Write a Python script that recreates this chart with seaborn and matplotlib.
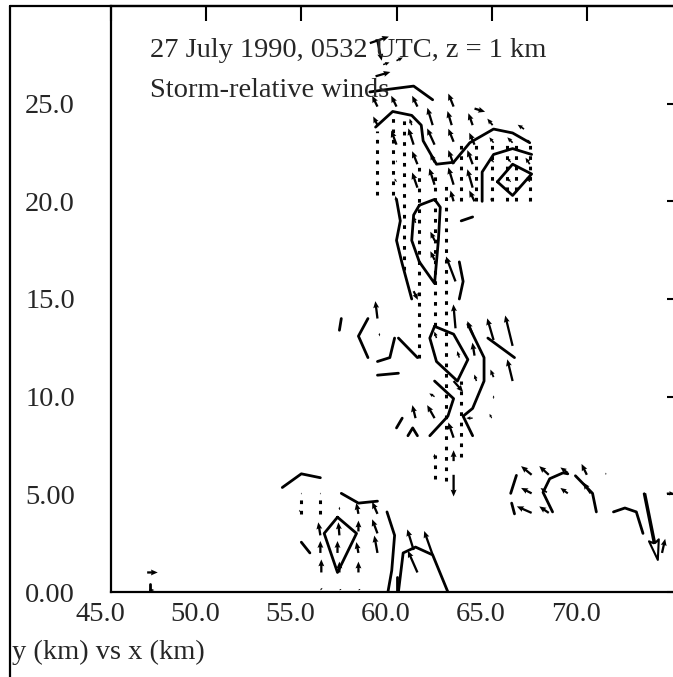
import numpy as np
import pandas as pd
import matplotlib
matplotlib.use("Agg")
import matplotlib.pyplot as plt
import matplotlib.transforms as mtransforms
from matplotlib.lines import Line2D
import seaborn as sns

# ---------------- data (km, m/s) ----------------
title_lines = ["27 July 1990, 0532 UTC, z = 1 km", "Storm-relative winds"]
axis_caption = "y (km) vs x (km)"
x_ticks = [45.0, 50.0, 55.0, 60.0, 65.0, 70.0]
x_ticklabels = ["45.0", "50.0", "55.0", "60.0", "65.0", "70.0"]
y_ticks = [0.0, 5.0, 10.0, 15.0, 20.0, 25.0]
y_ticklabels = ["0.00", "5.00", "10.0", "15.0", "20.0", "25.0"]

# wind vectors: tail position (km) and storm-relative components (m/s)
vec_x = [58.6, 59.0, 59.3, 60.0, 58.9,
         59.0, 60.0, 61.1, 63.0, 64.1,
         59.0, 60.8, 61.9, 62.9, 64.0, 65.05, 66.7,
         59.0, 60.0, 60.9, 62.0, 63.0, 64.1, 65.1, 66.1, 67.0,
         59.0, 60.0, 61.1, 62.0, 63.0, 64.0, 65.1, 66.0, 67.0,
         60.0, 61.1, 62.0, 63.0, 64.0, 66.0, 67.0,
         60.0, 63.0, 64.1, 65.0, 67.0,
         61.0, 62.0, 62.0, 63.1, 60.9, 59.0, 59.1, 63.1, 64.0, 64.1,
         65.1, 66.1, 66.1, 63.3, 64.2, 65.1, 62.1, 63.0, 62.0, 61.0,
         62.0, 63.0, 63.0, 63.0, 62.0, 64.0, 65.0, 65.1,
         55.0, 56.0, 54.9, 56.0, 57.0, 58.0, 59.0, 56.0, 57.0, 58.0,
         59.0, 56.0, 56.9, 58.0, 59.0, 56.05, 57.0, 58.0, 56.0, 57.0,
         58.0, 60.9, 61.9, 61.1, 46.9, 47.0,
         67.1, 68.0, 69.0, 70.0, 71.0, 67.1, 67.9, 69.0, 70.2, 67.1,
         68.0, 73.95, 74.2]
vec_y = [28.1, 28.2, 27.0, 27.2, 26.4,
         24.85, 24.85, 24.85, 24.85, 24.75,
         23.9, 23.9, 23.9, 23.9, 23.9, 23.9, 23.7,
         23.0, 22.9, 22.9, 22.9, 23.05, 22.9, 23.0, 23.0, 23.0,
         22.0, 22.0, 21.9, 22.0, 21.9, 21.9, 22.0, 22.0, 21.9,
         21.0, 20.7, 20.85, 20.85, 20.7, 21.0, 21.0,
         20.0, 20.0, 20.0, 20.0, 20.0,
         18.9, 18.0, 17.0, 15.9, 15.4, 14.0, 13.1, 13.5, 13.2, 12.1,
         12.9, 12.6, 10.8, 12.0, 10.8, 11.0, 13.0, 10.8, 10.0, 8.9,
         8.9, 7.9, 6.7, 6.0, 6.8, 8.9, 8.9, 9.9,
         5.0, 5.0, 4.1, 4.0, 4.2, 4.0, 4.0, 2.9, 2.9, 3.1,
         3.0, 2.0, 2.0, 2.0, 2.0, 1.0, 1.0, 1.0, 0.1, 0.1,
         0.1, 2.15, 1.9, 1.0, 1.0, 0.1,
         6.0, 6.0, 6.1, 6.0, 6.0, 5.05, 5.1, 5.05, 5.05, 4.05,
         4.05, 2.0, 5.05]
vec_u = [9, 2, 3, 3, 7,
         -2.5, -2.5, -2.5, -2.5, 5,
         -2, -1, -2.5, -2, -2, -2.5, -3,
         0, -2.5, -2.5, -3.5, -2.5, -2.5, -2, -2.5, -1,
         0, 0, -2.5, -2, -2.5, -2.5, -1.5, -1.5, -2,
         -1, -2.5, -2.5, -2.5, -2.5, -1.5, -1.5,
         -0.5, -1.5, -2.5, -0.5, 0,
         -1, -2, -2, -4.5, 2, -1, 0, -1, -2.5, -1,
         -3, -3.5, -2.5, -1, -1, -1.5, -1, 4.5, -2.5, -1.5,
         -3.5, -2.5, 0, 0, 0, -3, -1, 0,
         0, 0, 0, 0, 0, -1, -2.5, -1, -0.5, 0,
         -2.5, 0, 0, -1, -1.5, 0, 0, 0, 1, 1,
         1, -3, -4, -4.5, 5, 2.5,
         -5, -4.5, -3.5, -2.5, 0, -5, -3, -3.5, -3.5, -7,
         -4.5, 1.5, 3.5]
vec_v = [3, -9, 1, 1.5, 2,
         5, 5, 5, 6, -1.5,
         4, 3, 8, 6.5, 5.5, 3, 2,
         1.5, 6.5, 7.5, 7.5, 6, 5.5, 2.5, 2.5, 1.5,
         1, 1, 6, 4, 6.5, 6.5, 2, 2, 3,
         1.5, 7, 7.5, 8, 8.5, 1.5, 2,
         2.5, 5, 5, 1.5, 1.5,
         3, 4, 4, 11.5, -4, 8, 1.5, 11, 6, 6,
         10, 14, 10, 3, 3, 3.5, 3, -5, 1.5, 6,
         6, 7, 5, -10, 2.5, 0, 2, 1.5,
         0.8, 0.8, 1, 1, 1.5, 5, 5.5, 6, 6, 5,
         6.5, 5.5, 5.5, 5, 8, 6, 5, 5, 1, 0.5,
         0.5, 9.5, 11, 10, 0, 0,
         4, 4, 2.5, 5, 1, 2.5, 2, 2.5, 5, 3,
         3, 6.5, 0]

# strongest vector (reference arrow), drawn with an open head
big_x, big_y, big_u, big_v = [73.0], [5.05], [7.0], [-34.0]

# solid contour polylines (km)
contours = [
    ([58.6, 59.3, 60.9, 61.9], [25.6, 25.7, 25.9, 25.2]),
    ([58.9, 59.8, 60.8, 61.3, 61.4, 62.1, 63.0, 63.85, 65.1, 66.1, 67.0],
     [23.8, 24.6, 24.4, 23.9, 23.1, 21.9, 22.0, 23.0, 23.7, 23.5, 23.0]),
    ([64.5, 64.5, 65.1, 66.1, 67.1], [20.0, 21.5, 22.4, 22.7, 22.4]),
    ([65.3, 66.1, 67.1, 66.1, 65.3], [21.0, 21.9, 21.4, 20.3, 21.0]),
    ([61.2, 62.0, 62.3, 62.2, 62.0, 61.2, 60.8, 60.9, 61.2],
     [19.8, 20.1, 19.7, 18.0, 15.8, 16.9, 18.0, 19.3, 19.8]),
    ([60.0, 60.2, 60.0, 60.3, 60.8], [20.1, 19.0, 18.0, 16.8, 15.0]),
    ([63.3, 63.5, 63.3], [16.9, 15.9, 15.0]),
    ([63.4, 64.0], [19.0, 19.2]),
    ([57.0, 57.1], [13.4, 14.0]),
    ([58.5, 58.0, 58.5], [14.0, 13.1, 12.0]),
    ([59.0, 59.65, 59.9], [11.8, 12.0, 13.0]),
    ([60.1, 61.1], [13.0, 12.0]),
    ([59.0, 60.1], [11.1, 11.2]),
    ([62.0, 61.75, 62.1, 63.2, 63.75, 63.0, 62.0], [13.6, 13.0, 11.8, 10.8, 11.9, 13.2, 13.6]),
    ([63.75, 64.6, 64.6, 64.0, 63.5, 64.0], [13.7, 12.0, 10.8, 9.4, 9.0, 8.0]),
    ([64.8, 66.2], [13.0, 12.0]),
    ([62.0, 63.0, 62.7, 61.75], [10.8, 9.9, 9.0, 8.0]),
    ([60.6, 60.85, 61.1], [8.0, 8.4, 8.0]),
    ([60.3, 60.0], [8.9, 8.4]),
    ([54.0, 55.0, 56.0], [5.35, 6.05, 5.85]),
    ([57.1, 58.0, 59.0], [5.05, 4.55, 4.65]),
    ([56.9, 56.2, 56.9, 57.9, 56.9], [3.83, 3.0, 1.0, 3.0, 3.83]),
    ([55.0, 55.45], [2.55, 2.0]),
    ([59.5, 59.9, 59.75, 59.55], [4.1, 2.9, 1.1, 0.0]),
    ([60.1, 60.35, 61.0, 61.9, 62.7], [0.0, 2.0, 2.3, 1.9, 0.0]),
    ([60.0, 60.0], [0.75, 0.0]),
    ([68.2, 67.7, 68.05, 68.75, 69.0], [4.1, 5.1, 5.8, 6.1, 6.05]),
    ([69.4, 70.3, 70.5], [5.95, 5.05, 4.1]),
    ([71.4, 72.0, 72.6, 72.95], [4.1, 4.3, 4.1, 3.0]),
    ([66.0, 66.3], [5.05, 5.97]),
    ([66.05, 66.2], [4.55, 4.0]),
    ([47.05, 47.05], [0.0, 0.4]),
]

# dotted (negative) contour segments: x, y-start, y-end (km)
dot_x = [59.0, 59.8, 60.4, 61.2, 62.0, 62.0, 62.6, 63.4, 63.4, 64.2, 65.0, 65.8, 66.3, 67.0, 55.0, 56.0]
dot_y0 = [20.3, 20.3, 16.5, 12.0, 13.6, 5.8, 5.7, 6.9, 20.0, 20.0, 20.0, 20.0, 20.0, 20.0, 4.0, 4.0]
dot_y1 = [23.6, 24.3, 24.3, 22.0, 21.5, 7.0, 21.0, 10.8, 23.2, 23.2, 23.0, 23.0, 23.0, 23.0, 5.0, 5.0]

# ---------------- figure ----------------
sns.set_style("white")
plt.rcParams["font.family"] = ["Liberation Serif", "DejaVu Serif"]
plt.rcParams["font.size"] = 20.5

W, H = 673, 677
fig = plt.figure(figsize=(W / 100, H / 100), dpi=100)
ax = fig.add_axes([111 / W, 85 / H, 571 / W, 586 / H])

# contours via seaborn
rows = []
for cid, (xs, ys) in enumerate(contours):
    for order, (xx, yy) in enumerate(zip(xs, ys)):
        rows.append({"cid": cid, "order": order, "x": xx, "y": yy})
cdf = pd.DataFrame(rows)
sns.lineplot(data=cdf, x="x", y="y", units="cid", estimator=None, sort=False,
             color="black", linewidth=2.0, ax=ax, legend=False)

# dotted segments
ax.vlines(dot_x, dot_y0, dot_y1, colors="black", linewidth=2.2,
          linestyles=[(0, (1.2, 2.2))])

# wind vectors
ax.quiver(vec_x, vec_y, vec_u, vec_v, angles="xy", scale_units="xy", scale=9,
          pivot="tail", color="black", width=0.0040, headwidth=2.6,
          headlength=3.0, headaxislength=2.7, minlength=0.5, minshaft=1.5)
ax.quiver(big_x, big_y, big_u, big_v, angles="xy", scale_units="xy", scale=10,
          pivot="tail", facecolor="white", edgecolor="black", linewidth=1.5,
          width=0.0025, headwidth=7, headlength=14, headaxislength=12)

ax.set_xlim(45, 75)
ax.set_ylim(0, 30)
ax.set_xlabel("")
ax.set_ylabel("")
ax.set_xticks(x_ticks)
ax.set_xticklabels(x_ticklabels)
ax.set_yticks(y_ticks)
ax.set_yticklabels(y_ticklabels)
ax.tick_params(axis="both", direction="in", length=10.5, width=1.5,
               top=True, right=True, labelsize=20.5, color="black")
ax.tick_params(axis="x", pad=7)
ax.tick_params(axis="y", pad=26)
for s in ax.spines.values():
    s.set_linewidth(1.6)
    s.set_color("black")
    s.set_visible(True)

# x tick labels sit a little left of their ticks
off = mtransforms.ScaledTranslation(-11 / 100, 0, fig.dpi_scale_trans)
for lab in ax.get_xticklabels():
    lab.set_transform(lab.get_transform() + off)

ax.text(47.05, 27.4, title_lines[0], ha="left", va="baseline", fontsize=20.5)
ax.text(47.05, 25.35, title_lines[1], ha="left", va="baseline", fontsize=20.5)

fig.text(12 / W, 1 - 659 / H, axis_caption, ha="left", va="baseline", fontsize=20.5)

# outer frame (left and top)
fig.add_artist(Line2D([10 / W, 10 / W], [0, 1 - 6 / H], color="black", lw=1.6,
                      transform=fig.transFigure))
fig.add_artist(Line2D([10 / W, 1], [1 - 6 / H, 1 - 6 / H], color="black", lw=1.6,
                      transform=fig.transFigure))

fig.savefig("out.png", dpi=100)
